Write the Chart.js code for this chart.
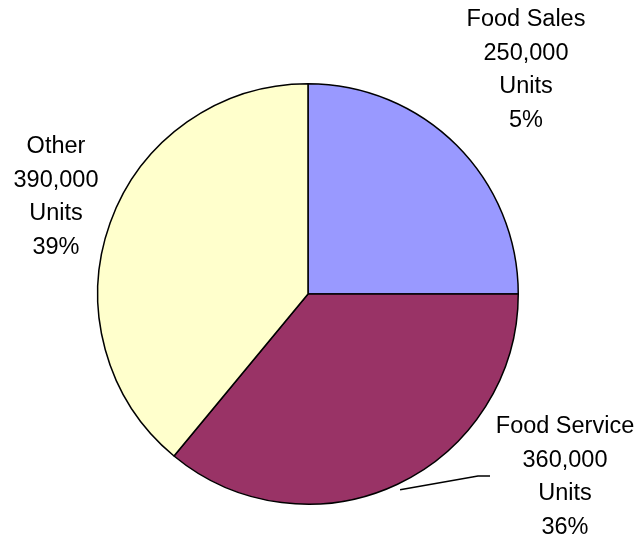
<!DOCTYPE html>
<html>
<head>
<meta charset="utf-8">
<script src="https://cdn.jsdelivr.net/npm/chart.js@4.4.1/dist/chart.umd.min.js"></script>
<style>
    html, body { margin: 0; padding: 0; background: #fff; }
    #wrap { width: 644px; height: 539px; }
</style>
</head>
<body>
<div id="wrap"><canvas id="pieChart" width="644" height="539"></canvas></div>
<script>
// Chart data
const categories = ['Food Sales', 'Food Service', 'Other'];
const unitValues = [250000, 360000, 390000];
const percentLabels = ['5%', '36%', '39%'];
const sliceColors = ['#9999FF', '#993366', '#FFFFCC'];

// where each text block sits (centre x, first line y)
const labelSpots = [
    { x: 526, y: 20 },
    { x: 565, y: 427 },
    { x: 56, y: 147 }
];

const sliceLabels = {
    id: 'sliceLabels',
    afterDraw(chart) {
        const ctx = chart.ctx;
        ctx.save();
        ctx.font = '23.5px "Liberation Sans", Arial, sans-serif';
        ctx.fillStyle = '#000';
        ctx.textAlign = 'center';
        ctx.textBaseline = 'middle';
        categories.forEach((name, i) => {
            const lines = [name, unitValues[i].toLocaleString('en-US'), 'Units', percentLabels[i]];
            const spot = labelSpots[i];
            lines.forEach((t, j) => ctx.fillText(t, spot.x, spot.y + j * 33.5));
        });

        // leader line for Food Service, from just outside the slice middle
        const arc = chart.getDatasetMeta(0).data[1];
        const mid = (arc.startAngle + arc.endAngle) / 2;
        const sx = arc.x + Math.cos(mid) * (arc.outerRadius + 6);
        const sy = arc.y + Math.sin(mid) * (arc.outerRadius + 6);
        ctx.strokeStyle = '#000';
        ctx.lineWidth = 1.5;
        ctx.beginPath();
        ctx.moveTo(sx, sy);
        ctx.lineTo(478, 476);
        ctx.lineTo(490, 476);
        ctx.stroke();
        ctx.restore();
    }
};

new Chart(document.getElementById('pieChart'), {
    type: 'pie',
    data: {
        labels: categories,
        datasets: [{
            data: unitValues,
            backgroundColor: sliceColors,
            borderColor: '#000',
            borderWidth: 1.5
        }]
    },
    options: {
        responsive: false,
        animation: false,
        layout: {
            padding: { top: 83, bottom: 34, left: 97, right: 125 }
        },
        plugins: {
            legend: { display: false },
            tooltip: { enabled: false }
        }
    },
    plugins: [sliceLabels]
});
</script>
</body>
</html>
